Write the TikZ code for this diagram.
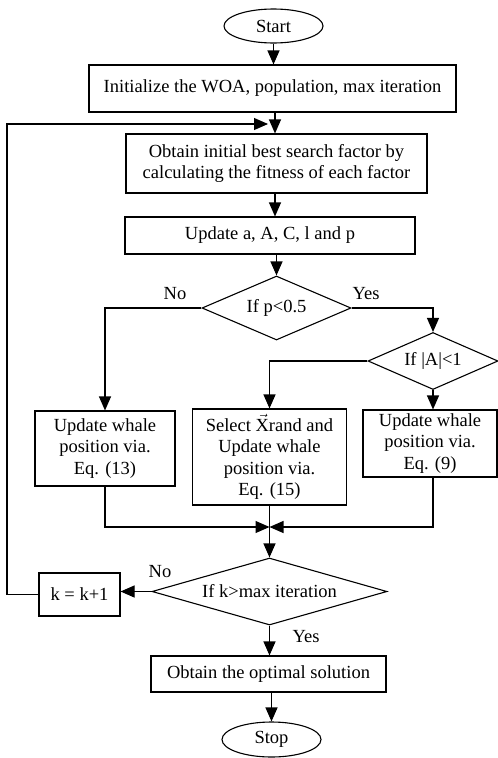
\documentclass[tikz,border=0pt]{standalone}
\usepackage{amsmath}
\usepackage{fontspec}
\setmainfont{Liberation Serif}
\usetikzlibrary{positioning,shapes.geometric,arrows.meta}

\begin{document}
\begin{tikzpicture}[x=1pt,y=-1pt,line width=1.1pt,
		font=\fontsize{18.5}{21.5}\selectfont,
		proc/.style={draw,rectangle,align=center,inner sep=0pt},
		term/.style={draw,ellipse,inner sep=0pt,minimum width=99,minimum height=34},
		dec/.style={draw,diamond,inner sep=0pt},
		arr/.style={-{Triangle[length=14pt,width=12pt]}}]
		\useasboundingbox (0,0) rectangle (498,758);
		\node (start) at (273.5,26) [term]{Start};
		\node (init) at (272.5,88.5) [proc,minimum width=367,minimum height=47]{Initialize the WOA, population, max iteration};
		\node (fit) at (276.5,163.5) [proc,minimum width=301,minimum height=59]{Obtain initial best search factor by\\calculating the fitness of each factor};
		\node (upd) at (270,235.5) [proc,minimum width=290,minimum height=37]{Update a, A, C, l and p};
		\node (dp) at (276.5,308) [dec,shape aspect=2.3,minimum width=149,minimum height=64]{If p<0.5};
		\node (dA) at (433,361) [dec,shape aspect=2.3,minimum width=130,minimum height=57]{If |A|<1};
		\node (eq13) at (105,448.5) [proc,minimum width=140,minimum height=75]{Update whale\\position via.\\Eq. (13)};
		\node (eq15) at (269.5,457) [proc,minimum width=154,minimum height=96]{Select $\vec{\text{X}}$rand and\\Update whale\\position via.\\Eq. (15)};
		\node (eq9) at (430,443.5) [proc,minimum width=134,minimum height=67]{Update whale\\position via.\\Eq. (9)};
		\node (dk) at (269.5,591.5) [dec,shape aspect=3.5,minimum width=235,minimum height=67]{If k>max iteration};
		\node (inc) at (79.5,594.5) [proc,minimum width=81,minimum height=43]{k = k+1};
		\node (opt) at (268.5,674) [proc,minimum width=235,minimum height=36]{Obtain the optimal solution};
		\node (stop) at (271.5,739.5) [term,minimum height=35]{Stop};
		\node (no1) at (175,294) {No};
		\node (yes1) at (366,294) {Yes};
		\node (no2) at (160,572) {No};
		\node (yes2) at (306,637) {Yes};
		\coordinate (join) at (275,124);
		\coordinate (mrg) at (269.5,527);
		\coordinate (lp) at (7,124);
		
		\draw [arr] (start.south) -- (start.south |- init.north);
		\draw [arr] (join |- init.south) -- (join |- fit.north);
		\draw [arr] (join |- fit.south) -- (join |- upd.north);
		\draw [arr] (dp.north |- upd.south) -- (dp.north);
		\draw [arr] (dp.west) -| (eq13.north);
		\draw [arr] (dp.east) -| (dA.north);
		\draw [arr] (dA.west) -| (eq15.north);
		\draw [arr] (dA.south) -- (dA.south |- eq9.north);
		\draw [arr] (eq13.south) |- (mrg);
		\draw [arr] (eq9.south -| dA.south) |- (mrg);
		\draw [arr] (eq15.south) -- (dk.north);
		\draw [arr] (dk.west) -- (dk.west -| inc.east);
		\draw [arr] (inc.west) -| (lp) -- ([xshift=-7pt]join);
		\draw [arr] (dk.south) -- (dk.south |- opt.north);
		\draw [arr] (stop.north |- opt.south) -- (stop.north);
	\end{tikzpicture}
\end{document}
